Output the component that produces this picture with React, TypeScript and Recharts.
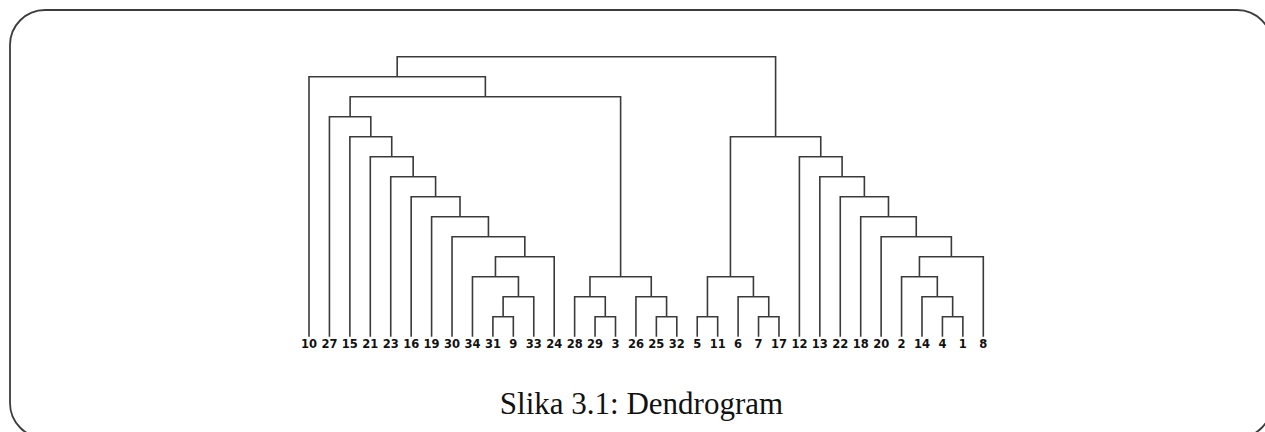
import { ScatterChart, Scatter, XAxis, YAxis } from 'recharts';

// leaf order along the bottom
const leafLabels = [
  '10', '27', '15', '21', '23', '16', '19', '30', '34', '31', '9', '33', '24',
  '28', '29', '3', '26', '25', '32', '5', '11', '6', '7', '17', '12', '13',
  '22', '18', '20', '2', '14', '4', '1', '8',
];

// merge i creates cluster c{i+1} from mergeLeft[i] and mergeRight[i]
const mergeLeft = [
  '31', 'c1', '34', 'c3', '30', '19', '16', '23', '21', '15', '27', '29', '28',
  '25', '26', 'c13', 'c11', '10', '5', '7', '6', 'c19', '4', '14', '2', 'c25',
  '20', '18', '22', '13', '12', 'c22', 'c18',
];
const mergeRight = [
  '9', '33', 'c2', '24', 'c4', 'c5', 'c6', 'c7', 'c8', 'c9', 'c10', '3', 'c12',
  '32', 'c14', 'c15', 'c16', 'c17', '11', '17', 'c20', 'c21', '1', 'c23', 'c24',
  '8', 'c26', 'c27', 'c28', 'c29', 'c30', 'c31', 'c32',
];
const mergeHeight = [
  1, 2, 3, 4, 5, 6, 7, 8, 9, 10, 11, 1, 2, 1, 2, 3, 12, 13, 1, 1, 2, 3, 1, 2, 3,
  4, 5, 6, 7, 8, 9, 10, 14,
];

const leafTicks = leafLabels.map((_, i) => i);

const LINE = '#3a3a3a';

function buildLinks() {
  const pos: Record<string, { x: number; y: number }> = {};
  leafLabels.forEach((l, i) => {
    pos[l] = { x: i, y: 0 };
  });
  return mergeHeight.map((h, i) => {
    const a = pos[mergeLeft[i]];
    const b = pos[mergeRight[i]];
    pos['c' + (i + 1)] = { x: (a.x + b.x) / 2, y: h };
    return [
      { x: a.x, y: a.y },
      { x: a.x, y: h },
      { x: b.x, y: h },
      { x: b.x, y: b.y },
    ];
  });
}

const links = buildLinks();

const NoDot = () => <g />;

export default function App() {
  return (
    <div
      style={{
        position: 'absolute',
        left: 0,
        top: 0,
        width: 1265,
        height: 432,
        background: '#fff',
        overflow: 'hidden',
      }}
    >
      <svg
        width={1265}
        height={432}
        style={{ position: 'absolute', left: 0, top: 0 }}
      >
        <rect
          x={10}
          y={10}
          width={1262}
          height={428}
          rx={35}
          ry={35}
          fill="none"
          stroke="#3c3c3c"
          strokeWidth={1.8}
        />
        <text
          x={641.5}
          y={414}
          textAnchor="middle"
          fontFamily="'Liberation Serif', serif"
          fontSize={31}
          fill="#111"
        >
          Slika 3.1: Dendrogram
        </text>
      </svg>
      <div style={{ position: 'absolute', left: 0, top: 0 }}>
        <ScatterChart
          width={1265}
          height={432}
          margin={{ top: 56.7, right: 281.7, bottom: 65.3, left: 309 }}
        >
          <XAxis
            type="number"
            dataKey="x"
            domain={[0, 33]}
            ticks={leafTicks}
            interval={0}
            tickFormatter={(v: number) => leafLabels[v]}
            axisLine={false}
            tickLine={false}
            tickSize={0}
            tickMargin={3.5}
            height={30}
            tick={{
              fontFamily: 'DejaVu Sans',
              fontWeight: 'bold',
              fontSize: 11.5,
              fill: '#111',
            }}
          />
          <YAxis type="number" dataKey="y" domain={[0, 14]} hide />
          {links.map((pts, i) => (
            <Scatter
              key={i}
              data={pts}
              fill={LINE}
              line={{ stroke: LINE, strokeWidth: 1.6 }}
              lineType="joint"
              shape={NoDot}
              isAnimationActive={false}
            />
          ))}
        </ScatterChart>
      </div>
    </div>
  );
}
